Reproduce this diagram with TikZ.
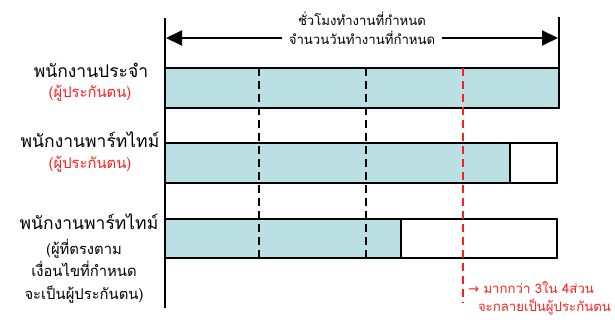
\documentclass[tikz,border=0pt]{standalone}
\usepackage{fontspec}
\usepackage{xcolor}
\usepackage{tikz}
\usetikzlibrary{arrows.meta}
\setmainfont[Script=Thai]{Loma}
\newfontfamily\symfont{DejaVu Sans}
\definecolor{barfill}{HTML}{BBE0E3}
\definecolor{notered}{HTML}{FF1E1E}
\newcommand{\lbl}{\fontsize{17.5}{20}\selectfont}
\newcommand{\sub}{\fontsize{14.8}{22.5}\selectfont}
\newcommand{\sml}{\fontsize{13.2}{19}\selectfont}

\begin{document}
\begin{tikzpicture}[x=1pt, y=-1pt, line width=2pt,
    dashline/.style = {dash pattern=on 8pt off 5pt, line width=2pt},
    bigtip/.style = {-{Triangle[length=16pt, width=15pt]}}]
            \useasboundingbox (0, 0) rectangle (615, 334);

            % bars
            \fill[barfill] (165, 68) rectangle (559, 108);
            \fill[barfill] (165, 143) rectangle (510, 183);
            \fill[barfill] (165, 219) rectangle (401, 258);
            \draw (165, 68) rectangle (559, 108);
            \draw (165, 143) rectangle (557, 183);
            \draw (510, 143) -- (510, 183);
            \draw (165, 219) rectangle (557, 258);
            \draw (401, 219) -- (401, 258);

            % limits
            \draw (165, 18) -- (165, 308);
            \draw (559, 17) -- (559, 68);
            \draw[dashline] (259, 68) -- (259, 258);
            \draw[dashline] (366, 68) -- (366, 258);
            \draw[dashline, notered] (463, 68) -- (463, 303);

            % span arrow
            \node[font = \sml] (hours) at (362, 19) {ชั่วโมงทำงานที่กำหนด};
            \node[font = \sml, fill = white, inner xsep = 6pt, inner ysep = 0pt] (days) at (362, 38)
                {จำนวนวันทำงานที่กำหนด};
            \coordinate (lefttip) at (166, 38);
            \coordinate (righttip) at (558, 38);
            \draw[bigtip] (days.west) -- (lefttip);
            \draw[bigtip] (days.east) -- (righttip);

            % labels
            \node[font = \lbl] (regular) at (91, 70) {พนักงานประจำ};
            \node[font = \sub, notered] (regularins) at (90, 93) {(ผู้ประกันตน)};
            \node[font = \lbl] (parta) at (90, 140) {พนักงานพาร์ทไทม์};
            \node[font = \sub, notered] (partains) at (90, 164) {(ผู้ประกันตน)};
            \node[font = \lbl] (partb) at (89, 222) {พนักงานพาร์ทไทม์};
            \node[font = \sub, align = center] (partbcond) at (84, 271)
                {(ผู้ที่ตรงตาม\\เงื่อนไขที่กำหนด\\จะเป็นผู้ประกันตน)};

            % threshold note
            \node[font = \sml, notered, anchor = west, inner sep = 1pt] (more) at (466, 288)
                {{\symfont →} มากกว่า 3ใน 4ส่วน};
            \node[font = \sml, notered, anchor = west, inner sep = 1pt] (becomes) at (476, 307)
                {จะกลายเป็นผู้ประกันตน};
        \end{tikzpicture}
\end{document}
